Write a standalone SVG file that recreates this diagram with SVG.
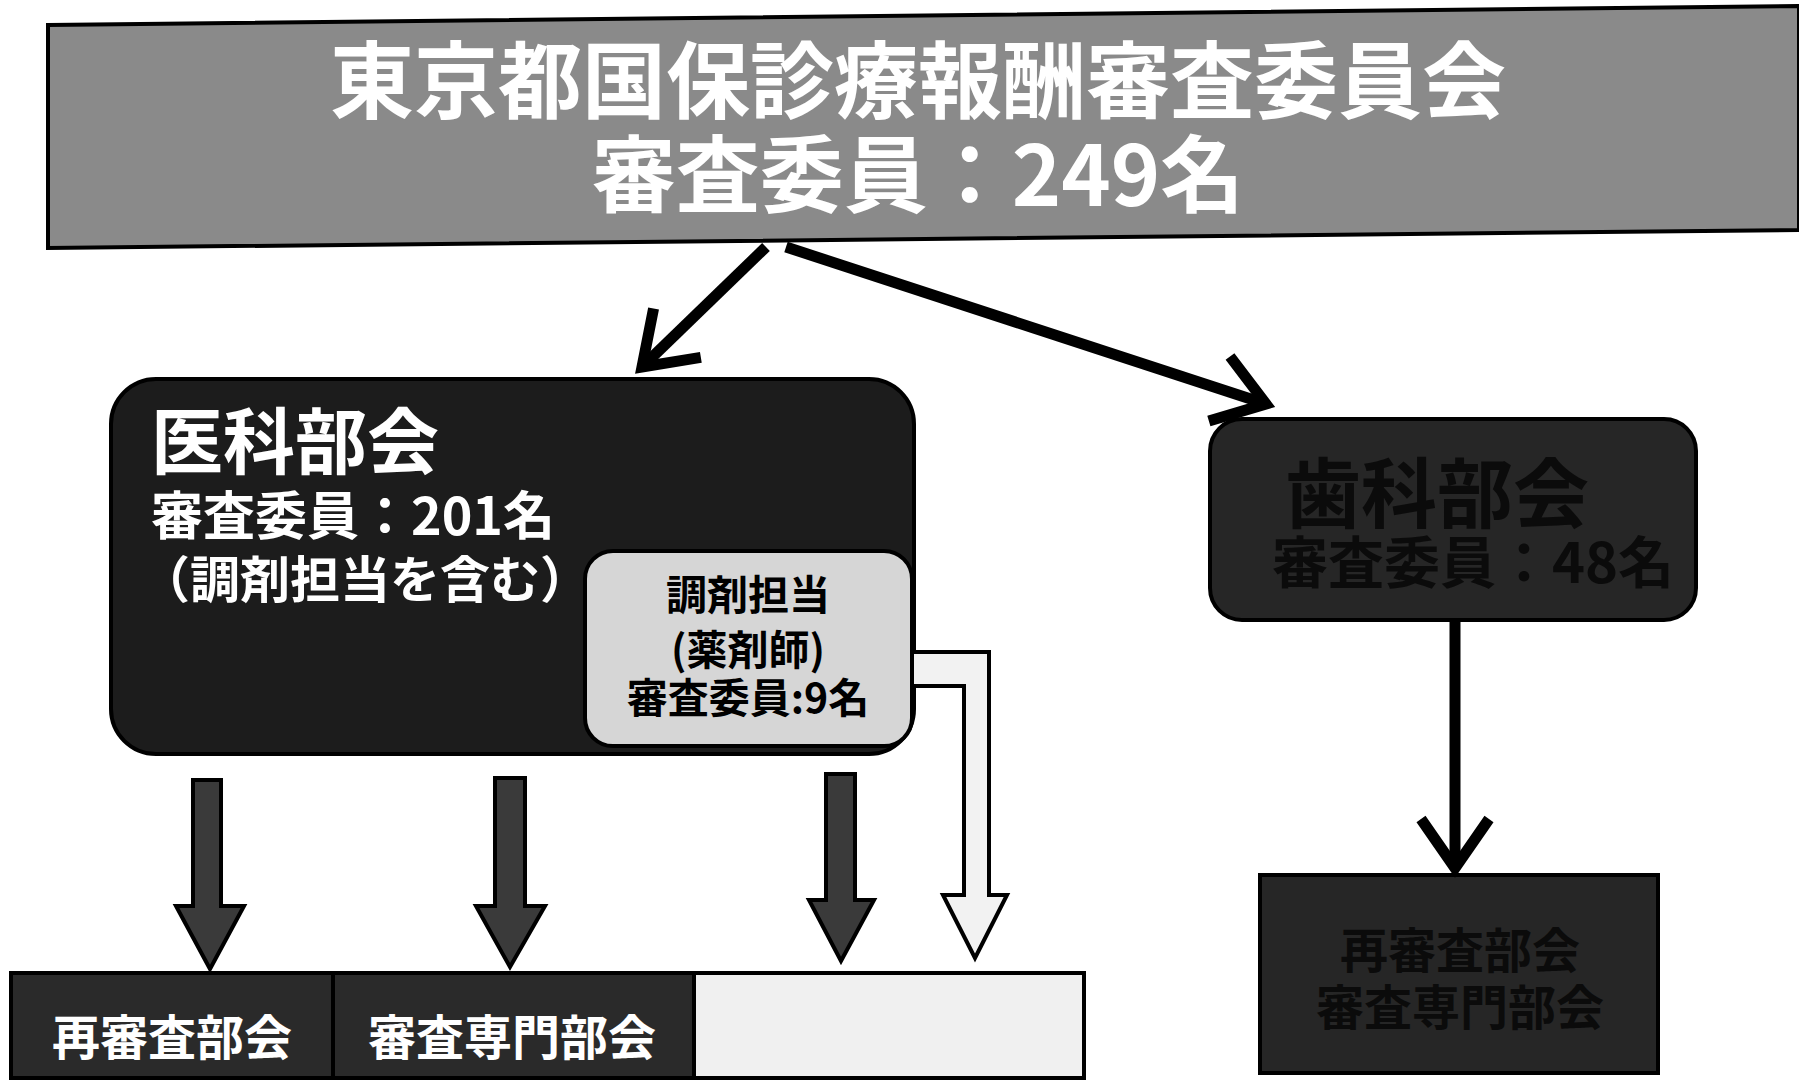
<svg xmlns="http://www.w3.org/2000/svg" width="1799" height="1089" viewBox="0 0 1799 1089">
<defs>
<style>
.t{font-family:"Noto Sans CJK JP","Noto Sans CJK SC",sans-serif;font-weight:bold}
.w{fill:#ffffff}
.k{fill:#000000}
.d{fill:#0b0b0b}
.line{fill:none;stroke:#000;stroke-width:11}
.blk{fill:#3a3a3a;stroke:#000;stroke-width:4;stroke-linejoin:miter}
</style>
<marker id="chev" viewBox="0 0 70 80" refX="60" refY="40" markerWidth="70" markerHeight="80" markerUnits="userSpaceOnUse" orient="auto">
<path d="M11,6 L60,40 L11,74" fill="none" stroke="#000" stroke-width="11"/>
</marker>
</defs>
<rect width="1799" height="1089" fill="#ffffff"/>

<g id="title">
<polygon points="48,25 1799,6 1799,230 48,248" fill="#8a8a8a" stroke="#000" stroke-width="4"/>
<text class="t w" x="918" y="112" font-size="84" text-anchor="middle">東京都国保診療報酬審査委員会</text>
<text class="t w" x="918" y="206" font-size="84" text-anchor="middle">審査委員：249名</text>
</g>

<g id="ika">
<rect x="111" y="379" width="803" height="375" rx="45" fill="#1c1c1c" stroke="#000" stroke-width="4"/>
<text class="t w" x="151" y="468" font-size="72">医科部会</text>
<text class="t w" x="151" y="535" font-size="52">審査委員：201名</text>
<text class="t w" x="140" y="598" font-size="50">（調剤担当を含む）</text>
</g>

<g id="chozai">
<rect x="585" y="551" width="327" height="195" rx="28" fill="#d6d6d6" stroke="#000" stroke-width="4"/>
<text class="t k" x="748" y="610" font-size="41" text-anchor="middle">調剤担当</text>
<text class="t k" x="748" y="665" font-size="41" text-anchor="middle">(薬剤師)</text>
<text class="t k" x="748" y="713" font-size="41" text-anchor="middle">審査委員:9名</text>
</g>

<g id="shika">
<rect x="1210" y="419" width="486" height="201" rx="32" fill="#262626" stroke="#000" stroke-width="4"/>
<text class="t d" x="1437" y="522" font-size="76" text-anchor="middle">歯科部会</text>
<text class="t d" x="1473" y="583" font-size="56" text-anchor="middle">審査委員：48名</text>
</g>

<g id="ika-bottom">
<rect x="11" y="973" width="322" height="105" fill="#2a2a2a" stroke="#000" stroke-width="4"/>
<rect x="333" y="973" width="361" height="105" fill="#2a2a2a" stroke="#000" stroke-width="4"/>
<rect x="694" y="973" width="390" height="105" fill="#f0f0f0" stroke="#000" stroke-width="4"/>
<text class="t w" x="172" y="1055" font-size="48" text-anchor="middle">再審査部会</text>
<text class="t w" x="512" y="1055" font-size="48" text-anchor="middle">審査専門部会</text>
</g>

<g id="shika-bottom">
<rect x="1260" y="875" width="398" height="198" fill="#262626" stroke="#000" stroke-width="4"/>
<text class="t d" x="1460" y="968" font-size="48" text-anchor="middle">再審査部会</text>
<text class="t d" x="1460" y="1025" font-size="48" text-anchor="middle">審査専門部会</text>
</g>

<g id="connectors">
<line class="line" x1="766" y1="247" x2="642" y2="367" marker-end="url(#chev)"/>
<line class="line" x1="786" y1="247" x2="1266" y2="404" marker-end="url(#chev)"/>
<line class="line" x1="1455" y1="620" x2="1455" y2="868" marker-end="url(#chev)"/>
<polygon class="blk" points="193,780 221,780 221,906 244,906 210,969 176,906 193,906"/>
<polygon class="blk" points="495,778 525,778 525,906 545,906 510,967 476,906 495,906"/>
<polygon class="blk" points="826,774 855,774 855,900 874,900 841,961 809,900 826,900"/>
<polygon points="912,652 989,652 989,895 1007,895 975,958 943,895 964,895 964,686 912,686" fill="#f2f2f2" stroke="#000" stroke-width="4"/>
</g>
</svg>
